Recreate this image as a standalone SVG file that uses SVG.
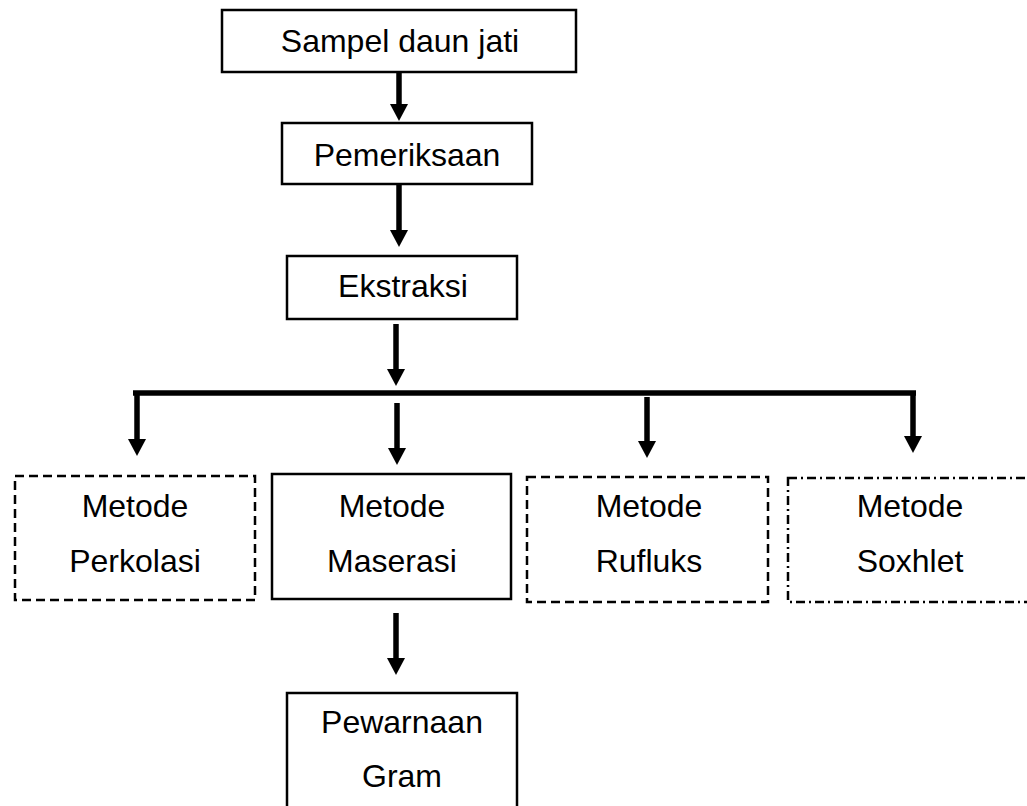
<svg xmlns="http://www.w3.org/2000/svg" width="1027" height="806" viewBox="0 0 1027 806">
<style>
.box{fill:#fff;stroke:#000;stroke-width:2.5}
.dash{stroke-dasharray:9 5}
.dashdot{stroke-dasharray:9 4 2 4}
.t{font-family:"Liberation Sans",Arial,sans-serif;font-size:32px;fill:#000;text-anchor:middle}
.c line{stroke:#000;stroke-width:5.5}
</style>
<defs>
<marker id="ah" markerUnits="userSpaceOnUse" markerWidth="18" markerHeight="18" refX="0" refY="9" orient="auto">
<path d="M0,0 L17,9 L0,18 z" fill="#000"/>
</marker>
</defs>
<g id="n1"><rect class="box" x="222" y="10" width="354" height="62"/><text class="t" x="400" y="52">Sampel daun jati</text></g>
<g id="n2"><rect class="box" x="282" y="123" width="250" height="61"/><text class="t" x="407" y="166">Pemeriksaan</text></g>
<g id="n3"><rect class="box" x="287" y="256" width="230" height="63"/><text class="t" x="403" y="297">Ekstraksi</text></g>
<g id="n4"><rect class="box dash" x="15" y="476" width="240" height="124"/><text class="t" x="135" y="517">Metode</text><text class="t" x="135" y="572">Perkolasi</text></g>
<g id="n5"><rect class="box" x="272" y="474" width="239" height="125"/><text class="t" x="392" y="517">Metode</text><text class="t" x="392" y="572">Maserasi</text></g>
<g id="n6"><rect class="box dash" x="527" y="477" width="241" height="125"/><text class="t" x="649" y="517">Metode</text><text class="t" x="649" y="572">Rufluks</text></g>
<g id="n7"><rect class="box dashdot" x="788" y="478" width="260" height="124"/><text class="t" x="910" y="517">Metode</text><text class="t" x="910" y="572">Soxhlet</text></g>
<g id="n8"><rect class="box" x="287" y="693" width="230" height="130"/><text class="t" x="402" y="733">Pewarnaan</text><text class="t" x="402" y="787">Gram</text></g>
<g id="connectors" class="c">
<line x1="399" y1="72" x2="399" y2="104" marker-end="url(#ah)"/>
<line x1="399" y1="184" x2="399" y2="230" marker-end="url(#ah)"/>
<line x1="396" y1="324" x2="396" y2="369" marker-end="url(#ah)"/>
<line x1="133" y1="393" x2="916" y2="393"/>
<line x1="137" y1="391" x2="137" y2="439" marker-end="url(#ah)"/>
<line x1="397" y1="403" x2="397" y2="448" marker-end="url(#ah)"/>
<line x1="647" y1="397" x2="647" y2="441" marker-end="url(#ah)"/>
<line x1="913" y1="391" x2="913" y2="436" marker-end="url(#ah)"/>
<line x1="396" y1="613" x2="396" y2="658" marker-end="url(#ah)"/>
</g>
</svg>
